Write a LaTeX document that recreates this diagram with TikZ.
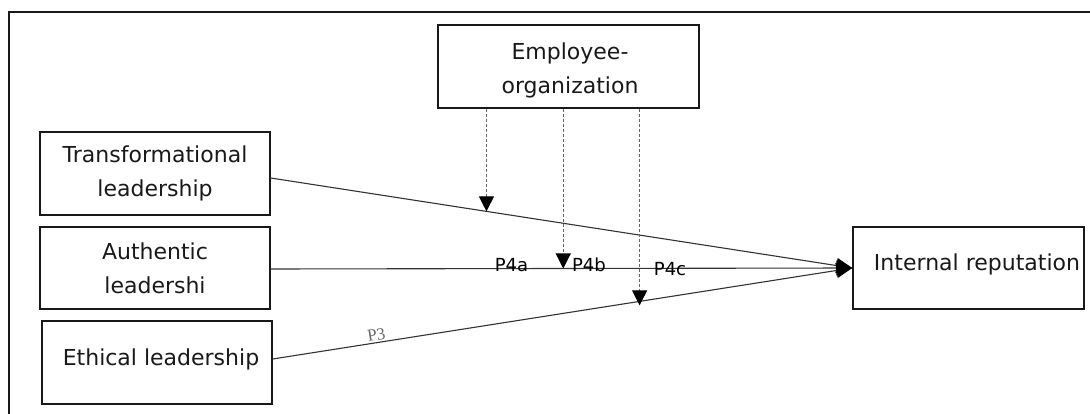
\documentclass[tikz,border=0pt]{standalone}
\usepackage{fontspec}
\setmainfont{DejaVu Sans}
\newfontfamily\serifp{Liberation Serif}
\usetikzlibrary{arrows.meta}
\begin{document}
\begin{tikzpicture}[x=1pt,y=-1pt,
  box/.style={draw=black!90,line width=1.4pt,rectangle,inner sep=0pt,align=center,
    font=\fontsize{22}{34}\selectfont,text=black!90},
  boxtext/.style={font=\fontsize{22}{34}\selectfont,text=black!90,inner sep=0pt,align=center},
  link/.style={draw=black!80,line width=1.1pt,-{Triangle[length=16pt,width=15pt,color=black]}},
  dasharrow/.style={draw=black!60,line width=1.1pt,dash pattern=on 3pt off 2pt,
    -{Triangle[length=15pt,width=15pt,color=black]}},
  plabel/.style={font=\fontsize{18}{18}\selectfont,text=black,inner sep=0pt},
]
\useasboundingbox (0,0) rectangle (1090,414);
\draw[line width=1.5pt,black!90] (9,414) -- (9,12) -- (1090,12);

\node[box,minimum width=230pt,minimum height=83pt] (trans) at (155,173.5) {Transformational\\leadership};
\node[box,minimum width=230pt,minimum height=82pt] (auth) at (155,268) {Authentic\\leadershi};
\node[box,minimum width=230pt,minimum height=83pt] (eth) at (157,362.5) {};
\node[boxtext] (ethtext) at (161,359) {Ethical leadership};
\node[box,minimum width=261pt,minimum height=83pt] (emp) at (568.5,66.5) {};
\node[boxtext] (emptext) at (570,70) {Employee-\\organization};
\node[box,minimum width=231pt,minimum height=82pt] (intr) at (968.5,268) {};
\node[boxtext] (intrtext) at (977,264) {Internal reputation};

\draw[link] ([yshift=-4.5pt]trans.east) -- coordinate[pos=0.371] (ta) (intr.west);
\draw[link] ([yshift=-1pt]auth.east) -- coordinate[pos=0.503] (tb) (intr.west);
\draw[link] ([yshift=3.5pt]eth.east) -- coordinate[pos=0.633] (tc)
  node[pos=0.181,sloped,anchor=south,inner sep=1.5pt,font=\serifp\fontsize{17}{17}\selectfont,text=black!60] (p3) {P3} (intr.west);

\draw[dasharrow] (emp.south -| ta) -- (ta);
\draw[dasharrow] (emp.south -| tb) -- (tb);
\draw[dasharrow,shorten >=-4pt] (emp.south -| tc) -- (tc);

\node[plabel] (p4a) at (511.5,265) {P4a};
\node[plabel] (p4b) at (589,265) {P4b};
\node[plabel] (p4c) at (670,269) {P4c};
\end{tikzpicture}
\end{document}
